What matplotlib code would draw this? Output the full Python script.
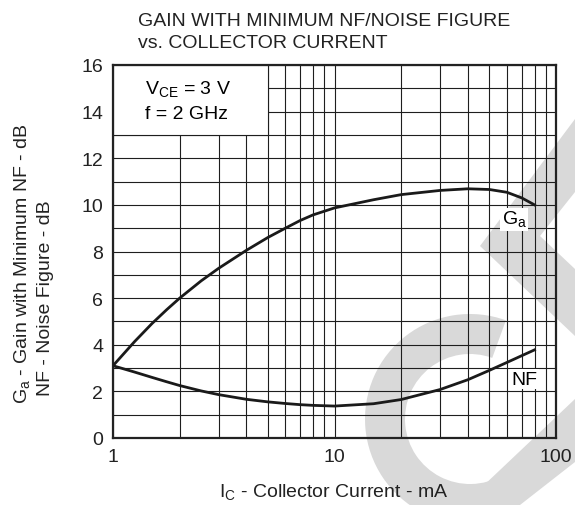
import numpy as np
import matplotlib
matplotlib.use("Agg")
import matplotlib.pyplot as plt
from matplotlib.patches import Rectangle, Wedge, Polygon
from matplotlib.ticker import FixedLocator, NullFormatter, FixedFormatter

plt.rcParams['font.family'] = ['Liberation Sans', 'DejaVu Sans']
plt.rcParams['mathtext.fontset'] = 'custom'
plt.rcParams['mathtext.rm'] = 'Liberation Sans'

# ---- data ----
ic_ma = [1, 1.25, 1.5, 1.75, 2, 2.5, 3, 4, 5, 6, 7, 8, 10, 15, 20, 30, 40, 50, 60, 70, 80]
ga_db = [3.1, 4.13, 4.91, 5.51, 6.0, 6.74, 7.28, 8.05, 8.6, 9.0, 9.33, 9.57, 9.87,
         10.22, 10.44, 10.62, 10.69, 10.66, 10.54, 10.3, 10.0]
nf_db = [3.1, 2.83, 2.6, 2.41, 2.25, 2.02, 1.86, 1.66, 1.55, 1.48, 1.43, 1.4, 1.37,
         1.47, 1.65, 2.08, 2.5, 2.9, 3.24, 3.53, 3.78]

x_ticks = [1, 10, 100]
x_tick_labels = ['1', '10', '100']
y_ticks = [0, 2, 4, 6, 8, 10, 12, 14, 16]

W, H = 575, 506
FS = 14
fig = plt.figure(figsize=(W / 100, H / 100), dpi=100)
fig.patch.set_facecolor('white')

# ---- background watermark (pixel coordinates, y up) ----
bg = fig.add_axes([0, 0, 1, 1], zorder=0)
bg.set_xlim(0, W)
bg.set_ylim(0, H)
bg.axis('off')
gray = '#d9d9d9'
bg.add_patch(Wedge((470, 86), 105, 70, 300, width=40, facecolor=gray, edgecolor='none'))
bg.add_patch(Polygon([(480, 259), (575, 386), (575, 313), (540, 269), (575, 236), (575, 169)],
                     closed=True, facecolor=gray, edgecolor='none'))
bg.add_patch(Polygon([(463, 0), (575, 106), (575, 43), (520, 0)],
                     closed=True, facecolor=gray, edgecolor='none'))

# ---- main axes ----
L, R, T, B = 113, 556, 66, 439
ax = fig.add_axes([L / W, 1 - B / H, (R - L) / W, (B - T) / H], zorder=1)
ax.set_facecolor('none')
ax.set_xscale('log')
ax.set_xlim(1, 100)
ax.set_ylim(0, 16)

ax.xaxis.set_major_locator(FixedLocator(x_ticks))
ax.xaxis.set_major_formatter(FixedFormatter(x_tick_labels))
ax.xaxis.set_minor_locator(FixedLocator([2, 3, 4, 5, 6, 7, 8, 9, 20, 30, 40, 50, 60, 70, 80, 90]))
ax.xaxis.set_minor_formatter(NullFormatter())
ax.yaxis.set_major_locator(FixedLocator(y_ticks))
ax.yaxis.set_minor_locator(FixedLocator(list(range(1, 16, 2))))

ax.grid(True, which='both', color='#1e1e1e', linewidth=0.8)
ax.set_axisbelow(True)
ax.tick_params(which='both', length=0, labelsize=FS, pad=7, colors='#222222')
for s in ax.spines.values():
    s.set_linewidth(1.6)
    s.set_color('#222222')

ax.plot(ic_ma, ga_db, color='#1a1a1a', linewidth=2.0, zorder=3, solid_joinstyle='round')
ax.plot(ic_ma, nf_db, color='#1a1a1a', linewidth=2.0, zorder=3, solid_joinstyle='round')

# condition box
ax.add_patch(Rectangle((1, 13), 4, 3, facecolor='white', edgecolor='#1e1e1e', linewidth=0.8, zorder=2.5))
ax.text(1.39, 14.96, r'V$_\mathregular{CE}$ = 3 V', fontsize=FS, va='center', ha='left', zorder=4)
ax.text(1.39, 13.9, 'f = 2 GHz', fontsize=FS, va='center', ha='left', zorder=4)

# curve labels
ax.text(64.7, 9.39, r'G$_\mathregular{a}$', fontsize=FS, ha='center', va='center', zorder=4,
        bbox=dict(facecolor='white', edgecolor='none', pad=1.0))
ax.text(72.2, 2.53, 'NF', fontsize=FS, ha='center', va='center', zorder=4,
        bbox=dict(facecolor='white', edgecolor='none', pad=1.0))

# titles and axis labels
fig.text(138 / W, 1 - 22 / H, 'GAIN WITH MINIMUM NF/NOISE FIGURE', fontsize=FS, ha='left', va='center', color='#222222')
fig.text(138 / W, 1 - 43 / H, 'vs. COLLECTOR CURRENT', fontsize=FS, ha='left', va='center', color='#222222')

fig.text(334 / W, 1 - 493 / H, r'I$_\mathregular{C}$ - Collector Current - mA', fontsize=FS, ha='center', va='center', color='#222222')
fig.text(23 / W, 1 - 404 / H, r'G$_\mathregular{a}$ - Gain with Minimum NF - dB', fontsize=FS, rotation=90,
         rotation_mode='anchor', ha='left', va='center', color='#222222')
fig.text(45 / W, 1 - 396 / H, 'NF - Noise Figure - dB', fontsize=FS, rotation=90,
         rotation_mode='anchor', ha='left', va='center', color='#222222')

fig.savefig('out.png', dpi=100)
